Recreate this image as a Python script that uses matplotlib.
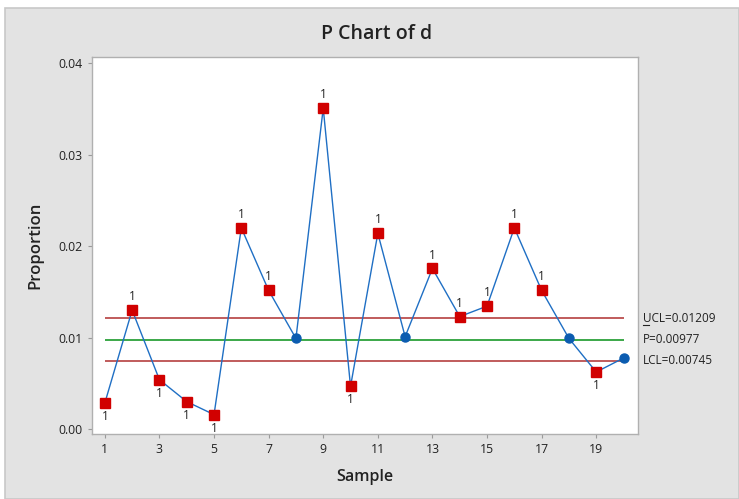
import matplotlib
matplotlib.use("Agg")
import matplotlib.pyplot as plt
from matplotlib.patches import Rectangle
from matplotlib.lines import Line2D
import matplotlib.transforms as mtransforms
import numpy as np

plt.rcParams['font.family'] = ['Open Sans', 'DejaVu Sans']

samples = list(range(1, 21))
proportion = [0.00284, 0.0130, 0.00539, 0.00299, 0.00157, 0.0220, 0.01516, 0.00991,
              0.0351, 0.00466, 0.0214, 0.0101, 0.01756, 0.0123, 0.01344, 0.0220,
              0.01516, 0.00991, 0.00623, 0.00776]
ucl = 0.01209
center = 0.00977
lcl = 0.00745
ucl_label = "UCL=0.01209"
cl_label = "P=0.00977"
lcl_label = "LCL=0.00745"
yticks = [0.00, 0.01, 0.02, 0.03, 0.04]
ytick_labels = ["0.00", "0.01", "0.02", "0.03", "0.04"]
xticks = [1, 3, 5, 7, 9, 11, 13, 15, 17, 19]

W, H = 739, 499
fig = plt.figure(figsize=(W / 100, H / 100), dpi=100)
fig.patch.set_facecolor('white')
# gray panel
fig.patches.append(Rectangle((5 / W, 0), (W - 5) / W, (H - 7.5) / H, transform=fig.transFigure,
                             facecolor='#e3e3e3', edgecolor='#c8c8c8', linewidth=1.2, zorder=-10))

ax = fig.add_axes([92 / W, 1 - 434 / H, (638 - 92) / W, (434 - 57) / H])
ax.set_zorder(1)
ax.set_facecolor('white')
ax.set_xlim(0.53, 20.53)
ax.set_ylim(-0.00055, 0.0407)

x = np.array(samples)
y = np.array(proportion)
ax.plot(x, y, color='#1f6fc4', lw=1.0, zorder=3)
ax.hlines([ucl, lcl], samples[0], samples[-1], color='#b5403f', lw=1.2, zorder=2)
ax.hlines([center], samples[0], samples[-1], color='#1a9a2a', lw=1.2, zorder=2)

out = (y > ucl) | (y < lcl)
ax.plot(x[~out], y[~out], 'o', color='#0b5cb0', ms=6.5, zorder=4, mec='#0b5cb0')
ax.plot(x[out], y[out], 's', color='#d10000', ms=7.5, zorder=4, mec='#d10000')

for xi, yi in zip(x, y):
    if yi > ucl:
        ax.annotate("1", (xi, yi), xytext=(0, 5), textcoords='offset points',
                    ha='center', va='bottom', fontsize=8.5, color='#222222', zorder=5)
    elif yi < lcl:
        ax.annotate("1", (xi, yi), xytext=(0, -5), textcoords='offset points',
                    ha='center', va='top', fontsize=8.5, color='#222222', zorder=5)

for val, lab in [(ucl, ucl_label), (center, cl_label), (lcl, lcl_label)]:
    ax.annotate(lab, (1, val), xycoords=('axes fraction', 'data'), xytext=(3.5, 0),
                textcoords='offset points', ha='left', va='center', fontsize=8.5,
                color='#222222', annotation_clip=False)
# underline the U of UCL (Minitab style)
base = ax.get_yaxis_transform()
off = mtransforms.ScaledTranslation(0, -5.0 / 72, fig.dpi_scale_trans)
ul = Line2D([1.0092, 1.0205], [ucl, ucl], transform=base + off, color='#222222', lw=0.8,
            clip_on=False)
ax.add_line(ul)

ax.set_yticks(yticks)
ax.set_yticklabels(ytick_labels)
ax.set_xticks(xticks)
ax.tick_params(axis='both', labelsize=8.8, colors='#222222', length=3, width=0.8,
               color='#9a9a9a')
for s in ax.spines.values():
    s.set_color('#b0b0b0')
    s.set_linewidth(1.0)

ax.set_xlabel("Sample", fontsize=11.5, fontweight='semibold', color='#222222', labelpad=9)
ax.set_ylabel("Proportion", fontsize=12, fontweight='semibold', color='#222222', labelpad=11)
fig.text(377 / W, 1 - 34 / H, "P Chart of d", ha='center', va='center', fontsize=14,
         fontweight='semibold', color='#222222')

fig.savefig("out.png", dpi=100, facecolor=fig.get_facecolor())
